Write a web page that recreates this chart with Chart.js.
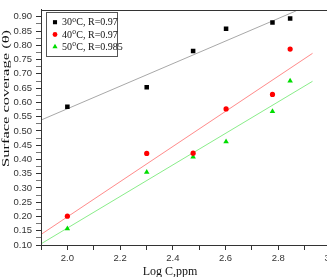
<!DOCTYPE html>
<html><head><meta charset="utf-8">
<script src="https://cdn.jsdelivr.net/npm/chart.js@4"></script>
<style>
html,body{margin:0;padding:0;background:#fff;overflow:hidden;width:327px;height:277px;}
#wrap{position:absolute;left:0;top:0;width:345px;height:277px;}
</style></head><body>
<div id="wrap"><canvas id="c"></canvas></div>
<script>
// ---- data ----
const logC   = [2.0, 2.301, 2.477, 2.602, 2.778, 2.845];
const cov30  = [0.585, 0.653, 0.780, 0.858, 0.880, 0.894];
const cov40  = [0.201, 0.421, 0.422, 0.577, 0.628, 0.787];
const cov50  = [0.157, 0.355, 0.409, 0.462, 0.568, 0.675];
const seriesLabels = ['30°C, R=0.97', '40°C, R=0.97', '50°C, R=0.985'];
// fitted lines (end points)
const fit30X = [1.9, 2.868]; const fit30Y = [0.538, 0.921];
const fit40X = [1.9, 2.93];  const fit40Y = [0.137, 0.772];
const fit50X = [1.9, 2.93];  const fit50Y = [0.104, 0.674];
const xTickLabels = ['2.0','2.2','2.4','2.6','2.8','3.0'];
const yTickLabels = ['0.10','0.15','0.20','0.25','0.30','0.35','0.40','0.45','0.50','0.55','0.60','0.65','0.70','0.75','0.80','0.85','0.90'];
const xTitle = 'Log C,ppm';
const yTitle = 'Surface coverage (\u03B8)';

const pts = (xs, ys) => xs.map((x, i) => ({x: x, y: ys[i]}));

const styles = [
  {color:'#000000', line:'#a8a8a8', pointStyle:'rect', r:3.2},
  {color:'#ff0000', line:'rgba(255,60,60,0.6)', pointStyle:'circle', r:2.6},
  {color:'#00dd00', line:'rgba(40,220,40,0.55)', pointStyle:'triangle', r:3.2}
];

const scatterSets = [cov30, cov40, cov50].map((ys, i) => ({
  type:'scatter', label: seriesLabels[i], data: pts(logC, ys),
  pointStyle: styles[i].pointStyle, pointRadius: styles[i].r, pointHoverRadius: styles[i].r,
  backgroundColor: styles[i].color, borderColor: styles[i].color, borderWidth: 0, order: 1
}));
const fitSets = [[fit30X,fit30Y],[fit40X,fit40Y],[fit50X,fit50Y]].map((f, i) => ({
  type:'line', label:'fit'+i, data: pts(f[0], f[1]), borderColor: styles[i].line,
  borderWidth: 1, pointRadius: 0, fill: false, order: 2, isFit: true
}));

const framePlugin = {
  id:'frame',
  afterDraw(chart) {
    const ctx = chart.ctx, a = chart.chartArea;
    ctx.save();
    // frame
    ctx.strokeStyle = '#333'; ctx.lineWidth = 1;
    ctx.strokeRect(Math.round(a.left)+0.5, Math.round(a.top)+0.5, Math.round(a.right-a.left), Math.round(a.bottom-a.top));
    // axis titles
    ctx.fillStyle = '#111';
    ctx.font = '12px "Liberation Serif", "Times New Roman", serif';
    ctx.textAlign = 'center'; ctx.textBaseline = 'alphabetic';
    ctx.fillText(xTitle, 170, 275);
    ctx.save();
    ctx.translate(6, 98.5);
    ctx.rotate(-Math.PI/2);
    ctx.scale(1.5, 1);
    ctx.font = '11px "Liberation Serif", "Times New Roman", serif';
    ctx.textBaseline = 'middle';
    ctx.fillText(yTitle, 0, 0);
    ctx.restore();
    // legend
    const bx = a.left + 5, by = a.top + 2;
    ctx.strokeStyle = '#555';
    ctx.strokeRect(Math.round(bx)+0.5, Math.round(by)+0.5, 71, 44);
    const ds = chart.data.datasets.filter(d => !d.isFit);
    ds.forEach((d, i) => {
      const cy = by + 10.5 + i * 12.3;
      const mx = bx + 9;
      ctx.fillStyle = d.backgroundColor; ctx.strokeStyle = d.backgroundColor;
      const rr = d.pointStyle === 'circle' ? 2.4 : (d.pointStyle === 'rect' ? 2.9 : 3.0);
      if (Chart.helpers && Chart.helpers.drawPoint) {
        Chart.helpers.drawPoint(ctx, {pointStyle: d.pointStyle, radius: rr, rotation: 0, borderWidth: 0}, mx, cy);
      } else {
        ctx.beginPath(); ctx.arc(mx, cy, rr, 0, Math.PI*2); ctx.fill();
      }
      const parts = d.label.split('°');
      let tx = bx + 16;
      ctx.fillStyle = '#111';
      ctx.textAlign = 'left'; ctx.textBaseline = 'middle';
      ctx.font = '10px "Liberation Serif", "Times New Roman", serif';
      ctx.fillText(parts[0], tx, cy + 0.5);
      tx += ctx.measureText(parts[0]).width;
      if (parts.length > 1) {
        ctx.font = '7.5px "Liberation Serif", "Times New Roman", serif';
        ctx.fillText('o', tx + 0.3, cy - 2.5);
        tx += ctx.measureText('o').width + 0.6;
        ctx.font = '10px "Liberation Serif", "Times New Roman", serif';
        ctx.fillText(parts[1], tx, cy + 0.5);
      }
    });
    ctx.restore();
  }
};

new Chart(document.getElementById('c'), {
  data: { datasets: [...fitSets, ...scatterSets] },
  options: {
    responsive: true, maintainAspectRatio: false, animation: false, devicePixelRatio: 1,
    layout: { padding: { top: 8, right: 14, bottom: 0, left: 0 } },
    plugins: { legend: { display: false }, tooltip: { enabled: false } },
    scales: {
      x: {
        type: 'linear', min: 1.9, max: 3.0,
        afterBuildTicks: s => { const t = []; for (let k = 19; k <= 30; k++) t.push({value: k/10}); s.ticks = t; },
        afterFit: s => { s.height = 32; },
        ticks: {
          autoSkip: false, maxRotation: 0, padding: 3, color: '#333',
          font: { family: '"Liberation Sans", Arial, sans-serif', size: 9.5 },
          callback: v => { const s = (+v).toFixed(1); return xTickLabels.includes(s) ? s : ''; }
        },
        grid: { drawOnChartArea: false, drawTicks: true, tickLength: 5, tickColor: '#333', color: '#333' },
        border: { display: true, color: '#333', width: 1 }
      },
      y: {
        type: 'linear', min: 0.1, max: 0.925,
        afterBuildTicks: s => { const t = []; for (let k = 100; k <= 900; k += 25) t.push({value: k/1000}); s.ticks = t; },
        afterFit: s => { s.width = 41; },
        ticks: {
          autoSkip: false, padding: 4, color: '#333',
          font: { family: '"Liberation Sans", Arial, sans-serif', size: 9.5 },
          callback: v => { const m = Math.round(v*1000); if (m % 50 !== 0) return ''; const s = (m/1000).toFixed(2); return yTickLabels.includes(s) ? s : ''; }
        },
        grid: { drawOnChartArea: false, drawTicks: true, tickLength: 5,
          tickColor: c => (Math.round(c.tick.value*1000) % 50 === 0 ? '#333' : '#777'), color: '#333' },
        border: { display: true, color: '#333', width: 1 }
      }
    }
  },
  plugins: [framePlugin]
});
</script>
</body></html>
